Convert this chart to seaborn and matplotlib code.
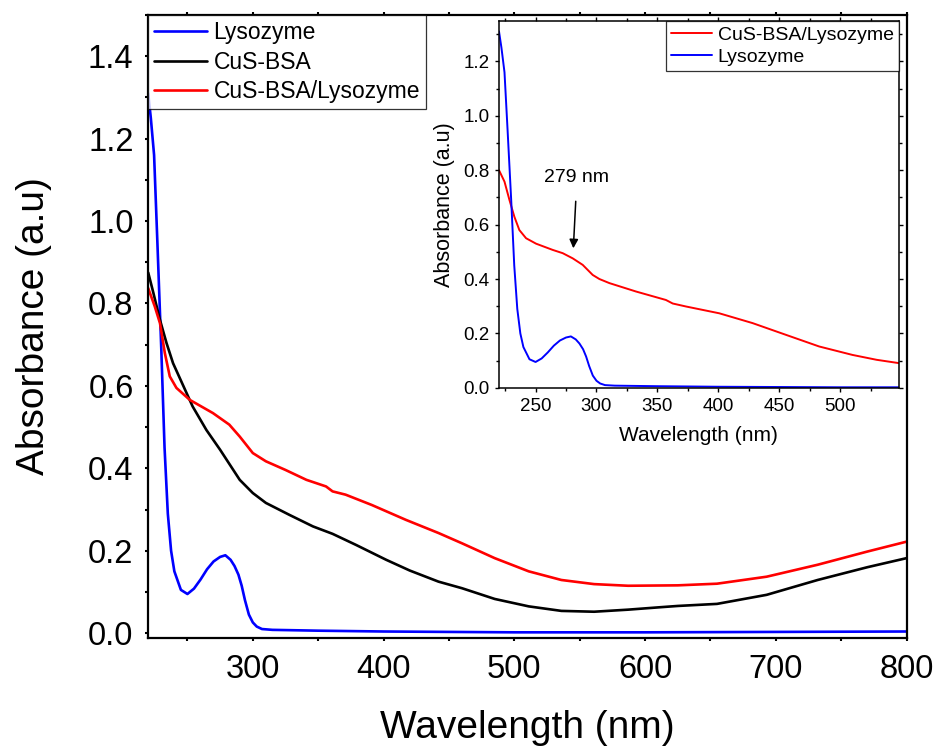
import numpy as np
import pandas as pd
import matplotlib
matplotlib.use("Agg")
import matplotlib.pyplot as plt
import seaborn as sns
from matplotlib.ticker import MultipleLocator, FormatStrFormatter

# ---- veri: ana grafik (220-800 nm) ----
wl_lyso = [220, 222, 224.5, 227, 230, 232.5, 235, 237.5, 240, 245, 250, 255, 260,
           265, 270, 275, 279, 283, 286, 289, 291.5, 294, 297, 300, 303, 307,
           315, 350, 400, 500, 600, 700, 800]
abs_lyso = [1.31, 1.25, 1.16, 0.95, 0.69, 0.45, 0.29, 0.20, 0.15, 0.105, 0.095, 0.108, 0.13,
            0.155, 0.174, 0.185, 0.189, 0.178, 0.163, 0.142, 0.115, 0.08, 0.045, 0.026, 0.016, 0.010,
            0.008, 0.006, 0.004, 0.002, 0.002, 0.003, 0.004]

wl_bsa = [220, 224, 229, 234, 239, 247, 254, 264.5, 275, 290, 300, 310, 328, 346, 361,
          379, 402, 420, 442, 460, 485, 511, 536, 561, 587, 612, 625, 655, 693, 732, 770, 800]
abs_bsa = [0.875, 0.825, 0.76, 0.704, 0.655, 0.599, 0.55, 0.493, 0.445, 0.372, 0.34, 0.316,
           0.287, 0.259, 0.241, 0.214, 0.178, 0.152, 0.125, 0.109, 0.083, 0.065, 0.054, 0.052,
           0.057, 0.063, 0.066, 0.071, 0.093, 0.129, 0.160, 0.182]

wl_mix = [220, 225, 229, 232.7, 236.5, 241.6, 251.8, 269.5, 282, 290, 300, 310, 325, 341,
          356, 361, 371, 391, 417, 442, 460, 485, 511, 536, 561, 587, 625, 655, 693, 732, 770, 800]
abs_mix = [0.837, 0.793, 0.752, 0.68, 0.623, 0.595, 0.566, 0.534, 0.506, 0.477, 0.437, 0.417,
           0.396, 0.372, 0.356, 0.344, 0.336, 0.311, 0.275, 0.243, 0.218, 0.182, 0.150, 0.129,
           0.119, 0.115, 0.116, 0.120, 0.137, 0.166, 0.198, 0.222]

# ---- veri: ic grafik (220-548 nm) ----
wl_mix_in = [220, 224.5, 228.6, 232.6, 236.7, 242.2, 250.4, 264.1, 272.3, 280.5, 288.7, 296.9,
             302.4, 310.6, 332.5, 357, 362.6, 373.5, 400.8, 428.1, 455.4, 482.8, 510.1, 530, 548]
abs_mix_in = [0.80, 0.758, 0.69, 0.629, 0.58, 0.55, 0.53, 0.507, 0.495, 0.476, 0.452, 0.415,
              0.40, 0.385, 0.354, 0.323, 0.31, 0.299, 0.274, 0.238, 0.195, 0.152, 0.121, 0.103, 0.091]

MAVI = "#0000FF"
KIRMIZI = "#FF0000"
SIYAH = "#000000"

sns.set_style("ticks")
plt.rcParams["font.family"] = ["Liberation Sans", "DejaVu Sans"]
# seaborn gri yazi rengini siyaha cevir
plt.rcParams.update({"text.color": "black", "axes.labelcolor": "black",
                     "xtick.color": "black", "ytick.color": "black",
                     "axes.edgecolor": "black"})

fig = plt.figure(figsize=(9.38, 7.56), dpi=100)
ax = fig.add_axes([0.158, 0.1565, 0.8085, 0.8237])

sns.lineplot(x=wl_lyso, y=abs_lyso, ax=ax, color=MAVI, lw=1.9, label="Lysozyme",
             sort=False, estimator=None)
sns.lineplot(x=wl_bsa, y=abs_bsa, ax=ax, color=SIYAH, lw=1.9, label="CuS-BSA",
             sort=False, estimator=None)
sns.lineplot(x=wl_mix, y=abs_mix, ax=ax, color=KIRMIZI, lw=1.9, label="CuS-BSA/Lysozyme",
             sort=False, estimator=None)

ax.set_xlim(220, 800)
ax.set_ylim(-0.011, 1.5)
ax.xaxis.set_major_locator(MultipleLocator(100))
ax.xaxis.set_minor_locator(MultipleLocator(50))
ax.yaxis.set_major_locator(MultipleLocator(0.2))
ax.yaxis.set_minor_locator(MultipleLocator(0.1))
ax.yaxis.set_major_formatter(FormatStrFormatter("%.1f"))
ax.tick_params(which="major", direction="out", length=7, width=1.5, labelsize=23.5, pad=9)
ax.tick_params(which="minor", direction="out", length=4.5, width=1.5)
ax.tick_params(axis="y", pad=8)
ax.tick_params(top=True, which="both", length=2.5)
for s in ax.spines.values():
    s.set_linewidth(1.6)
ax.set_xlabel("Wavelength (nm)", fontsize=28, labelpad=18)
ax.set_ylabel("Absorbance (a.u)", fontsize=28, labelpad=26)

leg = ax.legend(loc="upper left", fontsize=16.5, frameon=True, fancybox=False,
                edgecolor="black", borderaxespad=0, handlelength=2.3,
                handletextpad=0.3, labelspacing=0.3, borderpad=0.25)
leg.get_frame().set_linewidth(0.9)
for l in leg.get_lines():
    l.set_linewidth(1.9)

# ---- ic grafik ----
axi = fig.add_axes([0.532, 0.487, 0.426, 0.485])
sns.lineplot(x=wl_mix_in, y=abs_mix_in, ax=axi, color=KIRMIZI, lw=1.4,
             label="CuS-BSA/Lysozyme", sort=False, estimator=None)
sns.lineplot(x=wl_lyso, y=abs_lyso, ax=axi, color=MAVI, lw=1.4, label="Lysozyme",
             sort=False, estimator=None)
axi.set_xlim(220, 548)
axi.set_ylim(0, 1.348)
axi.xaxis.set_major_locator(MultipleLocator(50))
axi.xaxis.set_minor_locator(MultipleLocator(25))
axi.yaxis.set_major_locator(MultipleLocator(0.2))
axi.yaxis.set_minor_locator(MultipleLocator(0.1))
axi.yaxis.set_major_formatter(FormatStrFormatter("%.1f"))
axi.tick_params(which="major", direction="out", length=3, width=1, labelsize=13.5, pad=4)
axi.tick_params(which="minor", direction="out", length=2, width=1)
axi.tick_params(top=True, right=True, which="both", direction="in")
axi.tick_params(left=True, bottom=True, which="both", direction="out")
for s in axi.spines.values():
    s.set_linewidth(1.1)
axi.set_xlabel("Wavelength (nm)", fontsize=15, labelpad=8)
axi.set_ylabel("Absorbance (a.u)", fontsize=15.5, labelpad=6)

legi = axi.legend(loc="upper right", fontsize=14, frameon=True, fancybox=False,
                  edgecolor="black", borderaxespad=0, handlelength=2.1,
                  handletextpad=0.3, labelspacing=0.25, borderpad=0.25)
legi.get_frame().set_linewidth(0.9)

axi.annotate("279 nm", xy=(281, 0.513), xytext=(284, 0.775), ha="center", va="center",
             fontsize=14, arrowprops=dict(arrowstyle="-|>", color="black", lw=1.1,
                                          mutation_scale=13, shrinkA=9, shrinkB=0))

fig.savefig("out.png", dpi=100)
